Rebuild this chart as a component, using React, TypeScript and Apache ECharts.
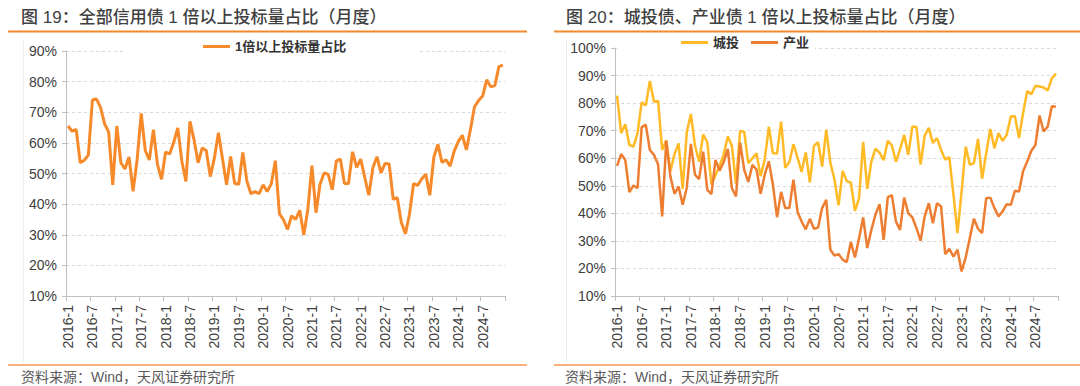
import React, { useEffect, useRef } from "react";
import * as echarts from "echarts";

const years = [2016, 2017, 2018, 2019, 2020, 2021, 2022, 2023, 2024];
const monthNums = [1, 2, 3, 4, 5, 6, 7, 8, 9, 10, 11, 12];
const categories: string[] = years.flatMap((y) => monthNums.map((m) => `${y}-${m}`));

// 图19：全部信用债 1倍以上投标量占比 (%)
const allCredit = [
  65.5, 63.8, 64.4, 53.5, 54.3, 56.1, 74.0, 74.3, 71.6, 66.2, 63.5, 46.3,
  65.5, 53.5, 51.5, 55.4, 44.2, 54.5, 69.6, 57.5, 54.4, 64.3, 53.0, 48.1,
  57.0, 56.4, 60.2, 64.9, 54.0, 47.4, 67.0, 61.0, 53.5, 58.3, 57.5, 49.0,
  55.0, 63.3, 54.8, 46.3, 55.6, 46.7, 46.5, 56.9, 47.5, 43.4, 44.1, 43.4,
  46.3, 44.1, 46.6, 54.2, 36.9, 34.9, 31.7, 36.2, 35.0, 38.0, 29.9, 38.3,
  52.6, 37.2, 46.5, 50.2, 49.7, 44.7, 54.1, 54.7, 46.7, 46.7, 57.1, 52.0,
  54.7, 48.7, 42.9, 51.9, 55.5, 50.2, 53.3, 53.1, 41.6, 42.1, 34.0, 30.3,
  36.7, 46.7, 46.1, 48.2, 49.8, 42.9, 55.4, 59.5, 53.6, 54.5, 52.4, 57.3,
  60.4, 62.5, 57.7, 64.4, 71.8, 73.8, 75.3, 80.6, 78.3, 78.7, 84.9, 85.4,
];

// 图20：城投
const chengtou = [
  82.7, 69.1, 72.3, 64.8, 64.2, 69.1, 80.3, 79.1, 88.0, 80.5, 80.8, 63.0,
  66.5, 55.2, 61.5, 65.4, 48.9, 69.5, 76.0, 64.6, 58.7, 68.6, 65.8, 50.5,
  53.8, 57.3, 61.4, 67.9, 64.5, 50.7, 69.9, 69.6, 58.2, 60.0, 61.8, 53.5,
  59.5, 71.4, 61.8, 61.7, 73.3, 56.5, 58.6, 65.1, 60.2, 55.0, 62.1, 51.2,
  64.5, 65.8, 57.0, 70.4, 58.4, 52.3, 42.9, 55.4, 51.7, 51.1, 40.9, 45.5,
  65.9, 48.9, 58.8, 63.5, 62.0, 59.3, 66.3, 64.6, 58.7, 63.3, 68.5, 61.2,
  71.5, 71.3, 57.7, 68.2, 71.0, 65.5, 67.3, 63.0, 59.5, 60.4, 47.0, 32.8,
  48.0, 64.2, 57.6, 58.2, 67.0, 52.5, 61.8, 70.6, 63.6, 69.1, 66.3, 68.5,
  75.1, 75.2, 67.3, 76.5, 84.4, 83.2, 86.3, 86.0, 85.7, 84.6, 89.0, 90.7,
];

// 图20：产业
const chanye = [
  57.2, 61.5, 59.4, 47.7, 50.1, 49.1, 71.2, 72.2, 63.0, 61.2, 57.8, 38.9,
  66.3, 53.4, 47.1, 49.7, 43.1, 49.3, 65.2, 54.0, 52.4, 62.4, 48.5, 47.0,
  59.4, 55.5, 58.6, 63.4, 49.1, 46.1, 65.7, 55.8, 51.4, 57.6, 55.9, 47.1,
  54.0, 58.9, 50.4, 38.6, 47.8, 41.9, 41.9, 52.2, 40.6, 37.0, 34.2, 38.0,
  34.4, 34.8, 41.9, 44.9, 26.8, 24.7, 25.2, 23.2, 22.3, 29.6, 24.0, 31.0,
  38.5, 27.4, 34.0, 39.5, 43.3, 30.4, 45.8, 46.6, 37.0, 34.0, 45.7, 40.0,
  38.5, 34.6, 30.0, 38.9, 43.7, 36.4, 43.7, 42.5, 25.2, 27.1, 24.3, 26.8,
  18.9, 24.0, 31.0, 38.0, 34.4, 32.8, 45.5, 45.7, 41.9, 38.9, 40.7, 43.3,
  43.1, 48.2, 47.9, 55.4, 58.8, 62.7, 64.8, 75.5, 69.7, 71.5, 78.9, 78.7,
];

const titleLeft = "图 19：全部信用债 1 倍以上投标量占比（月度）";
const titleRight = "图 20：城投债、产业债 1 倍以上投标量占比（月度）";
const sourceText = "资料来源：Wind，天风证券研究所";
const seriesNames = ["1倍以上投标量占比", "城投", "产业"];

const FONT = '"Liberation Sans", "Noto Sans CJK SC", sans-serif';
const C_ALL = "#F68A2B";
const C_CT = "#FFBA26";
const C_CY = "#ED7D31";
const AXIS_C = "#BFBFBF";
const LABEL_C = "#404040";

function xAxisFor(gi: number) {
  return {
    type: "category",
    gridIndex: gi,
    data: categories,
    boundaryGap: true,
    axisLine: { show: true, lineStyle: { color: AXIS_C, width: 1 } },
    axisTick: { show: true, interval: 5, length: 5, lineStyle: { color: AXIS_C } },
    axisLabel: { interval: 5, rotate: 90, fontSize: 14, color: LABEL_C, margin: 9, fontFamily: FONT },
    splitLine: { show: false },
  };
}

function yAxisFor(gi: number, max: number) {
  return {
    type: "value",
    gridIndex: gi,
    min: 10,
    max,
    interval: 10,
    axisLine: { show: true, lineStyle: { color: AXIS_C, width: 1 } },
    axisTick: { show: true, length: 4, lineStyle: { color: AXIS_C } },
    axisLabel: { formatter: "{value}%", fontSize: 14, color: LABEL_C, margin: 9, fontFamily: FONT },
    splitLine: { show: true, lineStyle: { color: "#D9D9D9", type: [3, 3], width: 1 } },
  };
}

const legendBase = {
  padding: 0,
  icon: "rect",
  itemWidth: 27,
  itemHeight: 3,
  itemGap: 12,
  textStyle: { fontSize: 13, fontWeight: "bold", color: "#333", fontFamily: FONT },
  z: 10,
};

export default function App() {
  const ref = useRef<HTMLDivElement>(null);
  useEffect(() => {
    document.body.style.margin = "0";
    if (!ref.current) return;
    const chart = echarts.init(ref.current, undefined, { renderer: "svg" });
    const option: any = {
      animation: false,
      backgroundColor: "#ffffff",
      textStyle: { fontFamily: FONT },
      grid: [
        { left: 66, top: 51, width: 439, height: 245 },
        { left: 615, top: 48, width: 443, height: 248 },
      ],
      xAxis: [xAxisFor(0), xAxisFor(1)],
      yAxis: [yAxisFor(0, 90), yAxisFor(1, 100)],
      legend: [
        { ...legendBase, data: [seriesNames[0]], left: 203, top: 40 },
        { ...legendBase, data: [seriesNames[1], seriesNames[2]], left: 681, top: 36 },
      ],
      series: [
        {
          name: seriesNames[0],
          type: "line",
          xAxisIndex: 0,
          yAxisIndex: 0,
          data: allCredit,
          symbol: "none",
          lineStyle: { width: 3, color: C_ALL },
          itemStyle: { color: C_ALL },
        },
        {
          name: seriesNames[1],
          type: "line",
          xAxisIndex: 1,
          yAxisIndex: 1,
          data: chengtou,
          symbol: "none",
          lineStyle: { width: 2.5, color: C_CT },
          itemStyle: { color: C_CT },
        },
        {
          name: seriesNames[2],
          type: "line",
          xAxisIndex: 1,
          yAxisIndex: 1,
          data: chanye,
          symbol: "none",
          lineStyle: { width: 2.5, color: C_CY },
          itemStyle: { color: C_CY },
        },
      ],
      graphic: [
        { type: "rect", z: 5, shape: { x: 124, y: 40, width: 293, height: 17 }, style: { fill: "#fff" } },
        { type: "rect", z: 5, shape: { x: 617, y: 37, width: 198, height: 16 }, style: { fill: "#fff" } },
        {
          type: "text", x: 21, y: 17, z: 6,
          style: { text: titleLeft, fontSize: 17, fontWeight: 500, fontFamily: FONT, fill: "#3F3F3F", verticalAlign: "middle" },
        },
        {
          type: "text", x: 566, y: 17, z: 6,
          style: { text: titleRight, fontSize: 17, fontWeight: 500, fontFamily: FONT, fill: "#3F3F3F", verticalAlign: "middle" },
        },
        { type: "line", z: 6, shape: { x1: 8, y1: 31.5, x2: 527, y2: 31.5 }, style: { stroke: "#F08A2C", lineWidth: 2 } },
        { type: "line", z: 6, shape: { x1: 554, y1: 31.5, x2: 1080, y2: 31.5 }, style: { stroke: "#F08A2C", lineWidth: 2 } },
        { type: "line", z: 6, shape: { x1: 8, y1: 365, x2: 527, y2: 365 }, style: { stroke: "#F9B07C", lineWidth: 2 } },
        { type: "line", z: 6, shape: { x1: 554, y1: 365, x2: 1080, y2: 365 }, style: { stroke: "#F9B07C", lineWidth: 2 } },
        { type: "line", z: 1, shape: { x1: 23.5, y1: 40, x2: 23.5, y2: 362 }, style: { stroke: "#EEEEEE", lineWidth: 1 } },
        { type: "line", z: 1, shape: { x1: 566.5, y1: 40, x2: 566.5, y2: 362 }, style: { stroke: "#EEEEEE", lineWidth: 1 } },
        {
          type: "text", x: 21, y: 377, z: 6,
          style: { text: sourceText, fontSize: 14, fontFamily: FONT, fill: "#595959", verticalAlign: "middle" },
        },
        {
          type: "text", x: 565, y: 377, z: 6,
          style: { text: sourceText, fontSize: 14, fontFamily: FONT, fill: "#595959", verticalAlign: "middle" },
        },
      ],
    };
    chart.setOption(option);
    return () => chart.dispose();
  }, []);
  return <div ref={ref} style={{ position: "absolute", left: 0, top: 0, width: 1080, height: 386 }} />;
}
